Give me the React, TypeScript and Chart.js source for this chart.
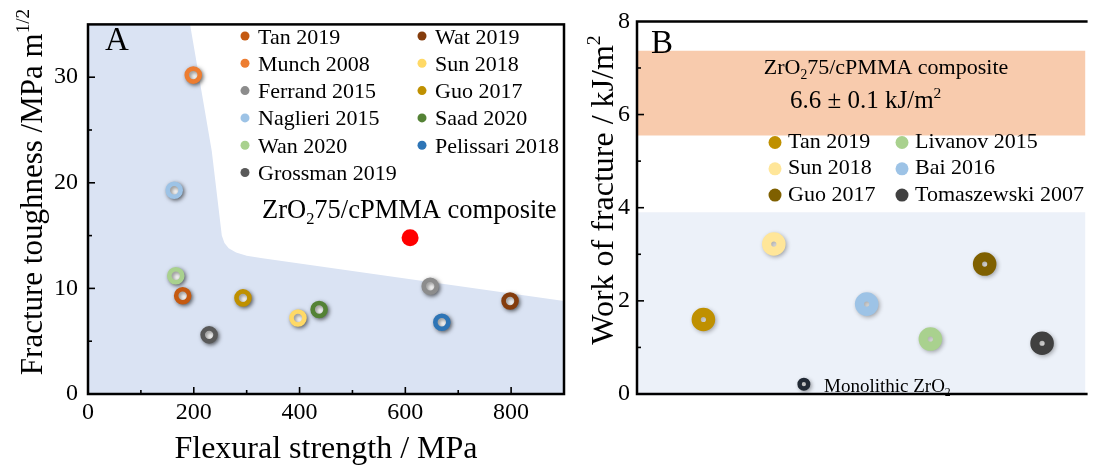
import React, { useEffect, useRef } from 'react';
import { Chart, registerables } from 'chart.js';

Chart.register(...registerables);

const FONT = '"Liberation Serif", "Times New Roman", serif';

// ---------- Panel A data ----------
const seriesA = ['Tan 2019', 'Wat 2019', 'Munch 2008', 'Sun 2018', 'Ferrand 2015', 'Guo 2017', 'Naglieri 2015', 'Saad 2020', 'Wan 2020', 'Pelissari 2018', 'Grossman 2019'];
const strengthA = [179, 798, 199, 397, 647, 293, 163, 437, 166, 669, 229];
const toughnessA = [9.3, 8.8, 30.2, 7.2, 10.2, 9.1, 19.3, 8.0, 11.2, 6.8, 5.6];
const colorsA = ['#C55A11', '#843C0C', '#ED7D31', '#FFD966', '#8C8C8C', '#BF9000', '#9DC3E6', '#548235', '#A9D18E', '#2E75B6', '#595959'];
const compositeStrength = [609];
const compositeToughness = [14.8];
const regionStrength = [0, 193, 234, 253, 258, 266, 280, 300, 330, 900];
const regionToughness = [35, 35, 23, 15, 14.3, 13.8, 13.4, 13.1, 12.85, 8.8];
const xStepA = 200;
const yStepA = 10;

// ---------- Panel B data ----------
const seriesB = ['Tan 2019', 'Livanov 2015', 'Sun 2018', 'Bai 2016', 'Guo 2017', 'Tomaszewski 2007'];
const positionB = [1.48, 6.54, 3.05, 5.12, 7.75, 9.03];
const workB = [1.6, 1.18, 3.22, 1.93, 2.79, 1.09];
const colorsB = ['#BF9000', '#A9D18E', '#FFE699', '#9DC3E6', '#7F6000', '#404040'];
const monolithicPosition = [3.72];
const monolithicWork = [0.21];
const compositeBand = [5.55, 7.37];
const comparisonBand = [0, 3.9];
const yStepB = 2;

type Run = { t: string; s?: 'sup' | 'sub' };

function drawRich(ctx: CanvasRenderingContext2D, runs: Run[], x: number, y: number, size: number, align: 'left' | 'center') {
  const sc = 0.62;
  const widths = runs.map((r) => {
    ctx.font = `${r.s ? size * sc : size}px ${FONT}`;
    return ctx.measureText(r.t).width;
  });
  const total = widths.reduce((a, b) => a + b, 0);
  let cx = align === 'center' ? x - total / 2 : x;
  ctx.textAlign = 'left';
  ctx.textBaseline = 'alphabetic';
  ctx.fillStyle = '#000';
  runs.forEach((r, i) => {
    ctx.font = `${r.s ? size * sc : size}px ${FONT}`;
    const dy = r.s === 'sup' ? -size * 0.42 : r.s === 'sub' ? size * 0.22 : 0;
    ctx.fillText(r.t, cx, y + dy);
    cx += widths[i];
  });
}

const shadowPlugin = {
  id: 'ringShadow',
  beforeDatasetDraw(chart: any, args: any) {
    const ds = chart.data.datasets[args.index];
    if (ds.shadow) {
      const c = chart.ctx;
      c.save();
      c.shadowColor = ds.shadow;
      c.shadowBlur = 4;
      c.shadowOffsetX = 1.5;
      c.shadowOffsetY = 1.5;
    }
  },
  afterDatasetDraw(chart: any, args: any) {
    const ds = chart.data.datasets[args.index];
    if (ds.shadow) chart.ctx.restore();
  },
};

function drawTicks(chart: any, xMinor: number | null, xMajor: number | null, yMinor: number, yMajor: number) {
  const ctx = chart.ctx as CanvasRenderingContext2D;
  const { left, bottom } = chart.chartArea;
  ctx.save();
  ctx.strokeStyle = '#000';
  ctx.lineWidth = 1.6;
  const xs = chart.scales.x;
  const ys = chart.scales.y;
  if (xMinor && xMajor) {
    for (let v = xs.min + xMinor; v < xs.max; v += xMinor) {
      const px = xs.getPixelForValue(v);
      const len = Math.abs(v % xMajor) < 1e-6 ? 7 : 4;
      ctx.beginPath();
      ctx.moveTo(px, bottom);
      ctx.lineTo(px, bottom - len);
      ctx.stroke();
    }
  }
  for (let v = ys.min + yMinor; v < ys.max; v += yMinor) {
    const py = ys.getPixelForValue(v);
    const len = Math.abs(v % yMajor) < 1e-6 ? 7 : 4;
    ctx.beginPath();
    ctx.moveTo(left, py);
    ctx.lineTo(left + len, py);
    ctx.stroke();
  }
  ctx.restore();
}

const decorA = {
  id: 'decorA',
  afterDatasetsDraw(chart: any) {
    const ctx = chart.ctx as CanvasRenderingContext2D;
    const { left, right, top, bottom } = chart.chartArea;
    drawTicks(chart, 100, xStepA, 5, yStepA);
    ctx.save();
    ctx.strokeStyle = '#000';
    ctx.lineWidth = 2.5;
    ctx.strokeRect(left, top, right - left, bottom - top);
    // legend
    seriesA.forEach((name, i) => {
      const col = i % 2;
      const row = Math.floor(i / 2);
      const dx = 245 + col * 177;
      const dy = 36 + row * 27.3;
      ctx.beginPath();
      ctx.fillStyle = colorsA[i];
      ctx.arc(dx, dy, 4.5, 0, Math.PI * 2);
      ctx.fill();
      ctx.fillStyle = '#000';
      ctx.font = `22px ${FONT}`;
      ctx.textAlign = 'left';
      ctx.textBaseline = 'alphabetic';
      ctx.fillText(name, dx + 13, dy + 7.5);
    });
    // annotation
    drawRich(ctx, [{ t: 'ZrO' }, { t: '2', s: 'sub' }, { t: '75/cPMMA composite' }], 262, 218, 26.5, 'left');
    // panel letter
    ctx.font = `33px ${FONT}`;
    ctx.fillStyle = '#000';
    ctx.textAlign = 'left';
    ctx.fillText('A', 105, 50);
    // axis titles
    drawRich(ctx, [{ t: 'Flexural strength / MPa' }], (left + right) / 2, 458, 32, 'center');
    ctx.save();
    ctx.translate(42, 192);
    ctx.rotate(-Math.PI / 2);
    drawRich(ctx, [{ t: 'Fracture toughness /MPa m' }, { t: '1/2', s: 'sup' }], 0, 0, 31, 'center');
    ctx.restore();
    ctx.restore();
  },
};

const decorB = {
  id: 'decorB',
  afterDatasetsDraw(chart: any) {
    const ctx = chart.ctx as CanvasRenderingContext2D;
    const { left, right, top, bottom } = chart.chartArea;
    drawTicks(chart, null, null, 1, yStepB);
    ctx.save();
    ctx.strokeStyle = '#000';
    ctx.lineWidth = 2.5;
    ctx.beginPath();
    ctx.moveTo(right + 2, top);
    ctx.lineTo(left, top);
    ctx.lineTo(left, bottom);
    ctx.lineTo(right + 2, bottom);
    ctx.stroke();
    // legend
    seriesB.forEach((name, i) => {
      const col = i % 2;
      const row = Math.floor(i / 2);
      const dx = 195 + col * 127;
      const base = 148 + row * 26.3;
      ctx.beginPath();
      ctx.fillStyle = colorsB[i];
      ctx.arc(dx, base - 5.5, 6.5, 0, Math.PI * 2);
      ctx.fill();
      ctx.fillStyle = '#000';
      ctx.font = `22px ${FONT}`;
      ctx.textAlign = 'left';
      ctx.textBaseline = 'alphabetic';
      ctx.fillText(name, dx + 13, base);
    });
    drawRich(ctx, [{ t: 'ZrO' }, { t: '2', s: 'sub' }, { t: '75/cPMMA composite' }], 306, 74, 22, 'center');
    drawRich(ctx, [{ t: '6.6 ± 0.1 kJ/m' }, { t: '2', s: 'sup' }], 210, 108, 25, 'left');
    drawRich(ctx, [{ t: 'Monolithic ZrO' }, { t: '2', s: 'sub' }], 244, 392, 19, 'left');
    ctx.font = `33px ${FONT}`;
    ctx.fillStyle = '#000';
    ctx.textAlign = 'left';
    ctx.fillText('B', 71, 53);
    ctx.save();
    ctx.translate(33, 190);
    ctx.rotate(-Math.PI / 2);
    drawRich(ctx, [{ t: 'Work of fracture / kJ/m' }, { t: '2', s: 'sup' }], 0, 0, 32, 'center');
    ctx.restore();
    ctx.restore();
  },
};

const tickFont = { family: FONT, size: 24 };

export default function App() {
  const refA = useRef<HTMLCanvasElement>(null);
  const refB = useRef<HTMLCanvasElement>(null);

  useEffect(() => {
    const ringDatasetsA = seriesA.map((name, i) => ({
      type: 'scatter' as const,
      label: name,
      data: [{ x: strengthA[i], y: toughnessA[i] }],
      pointStyle: 'circle',
      pointRadius: 6.5,
      pointBorderWidth: 4.6,
      pointBackgroundColor: '#ffffff',
      pointBorderColor: colorsA[i],
      shadow: 'rgba(0,0,0,0.5)',
      order: 1,
    }));
    const chartA = new Chart(refA.current as HTMLCanvasElement, {
      type: 'scatter',
      data: {
        datasets: [
          {
            type: 'line',
            label: 'region',
            data: regionStrength.map((x, i) => ({ x, y: regionToughness[i] })),
            fill: 'origin',
            backgroundColor: '#DAE3F3',
            borderWidth: 0,
            pointRadius: 0,
            tension: 0,
            order: 5,
          } as any,
          ...ringDatasetsA,
          {
            type: 'scatter',
            label: 'ZrO2 75/cPMMA composite',
            data: compositeStrength.map((x, i) => ({ x, y: compositeToughness[i] })),
            pointStyle: 'circle',
            pointRadius: 8.5,
            pointBorderWidth: 0,
            pointBackgroundColor: '#FF0000',
            pointBorderColor: '#FF0000',
            order: 0,
          } as any,
        ],
      },
      options: {
        responsive: false,
        devicePixelRatio: 1,
        animation: false,
        layout: { padding: { left: 0, top: 11, right: 16, bottom: 0 } },
        plugins: { legend: { display: false }, tooltip: { enabled: false } },
        scales: {
          x: {
            type: 'linear',
            min: 0,
            max: 900,
            grid: { display: false, drawTicks: false },
            border: { display: false },
            ticks: { stepSize: xStepA, includeBounds: false, font: tickFont, color: '#000', padding: 4, maxRotation: 0 },
            afterFit: (s: any) => { s.height = 72; },
          },
          y: {
            type: 'linear',
            min: 0,
            max: 35,
            grid: { display: false, drawTicks: false },
            border: { display: false },
            ticks: { stepSize: yStepA, includeBounds: false, font: tickFont, color: '#000', padding: 10 },
            afterFit: (s: any) => { s.width = 88; },
          },
        },
      } as any,
      plugins: [shadowPlugin, decorA],
    });

    const ringDatasetsB = seriesB.map((name, i) => ({
      type: 'scatter' as const,
      label: name,
      data: [{ x: positionB[i], y: workB[i] }],
      pointStyle: 'circle',
      pointRadius: 7.2,
      pointBorderWidth: 9.2,
      pointBackgroundColor: '#f4f4f4',
      pointBorderColor: colorsB[i],
      shadow: 'rgba(0,0,0,0.3)',
      order: 1,
    }));
    const chartB = new Chart(refB.current as HTMLCanvasElement, {
      type: 'scatter',
      data: {
        datasets: [
          {
            type: 'line',
            label: 'composite band',
            data: [{ x: 0, y: compositeBand[1] }, { x: 10, y: compositeBand[1] }],
            fill: { value: compositeBand[0] },
            backgroundColor: '#F8CBAD',
            borderWidth: 0,
            pointRadius: 0,
            order: 6,
          } as any,
          {
            type: 'line',
            label: 'comparison band',
            data: [{ x: 0, y: comparisonBand[1] }, { x: 10, y: comparisonBand[1] }],
            fill: { value: comparisonBand[0] },
            backgroundColor: '#ECF1F9',
            borderWidth: 0,
            pointRadius: 0,
            order: 6,
          } as any,
          ...ringDatasetsB,
          {
            type: 'scatter',
            label: 'Monolithic ZrO2',
            data: monolithicPosition.map((x, i) => ({ x, y: monolithicWork[i] })),
            pointStyle: 'circle',
            pointRadius: 4.3,
            pointBorderWidth: 4.4,
            pointBackgroundColor: '#f4f4f4',
            pointBorderColor: '#222A35',
            shadow: 'rgba(0,0,0,0.3)',
            order: 0,
          } as any,
        ],
      },
      options: {
        responsive: false,
        devicePixelRatio: 1,
        animation: false,
        layout: { padding: { left: 0, top: 13, right: 0, bottom: 72 } },
        plugins: { legend: { display: false }, tooltip: { enabled: false } },
        scales: {
          x: { type: 'linear', min: 0, max: 10, display: false },
          y: {
            type: 'linear',
            min: 0,
            max: 8,
            grid: { display: false, drawTicks: false },
            border: { display: false },
            ticks: { stepSize: yStepB, includeBounds: false, font: tickFont, color: '#000', padding: 7 },
            afterFit: (s: any) => { s.width = 57; },
          },
        },
      } as any,
      plugins: [shadowPlugin, decorB],
    });

    return () => {
      chartA.destroy();
      chartB.destroy();
    };
  }, []);

  return (
    <div style={{ position: 'absolute', left: 0, top: 0, width: 1102, height: 466, background: '#fff', overflow: 'hidden' }}>
      <canvas ref={refA} width={580} height={466} style={{ position: 'absolute', left: 0, top: 0, width: 580, height: 466 }} />
      <canvas ref={refB} width={522} height={466} style={{ position: 'absolute', left: 580, top: 0, width: 522, height: 466 }} />
    </div>
  );
}
